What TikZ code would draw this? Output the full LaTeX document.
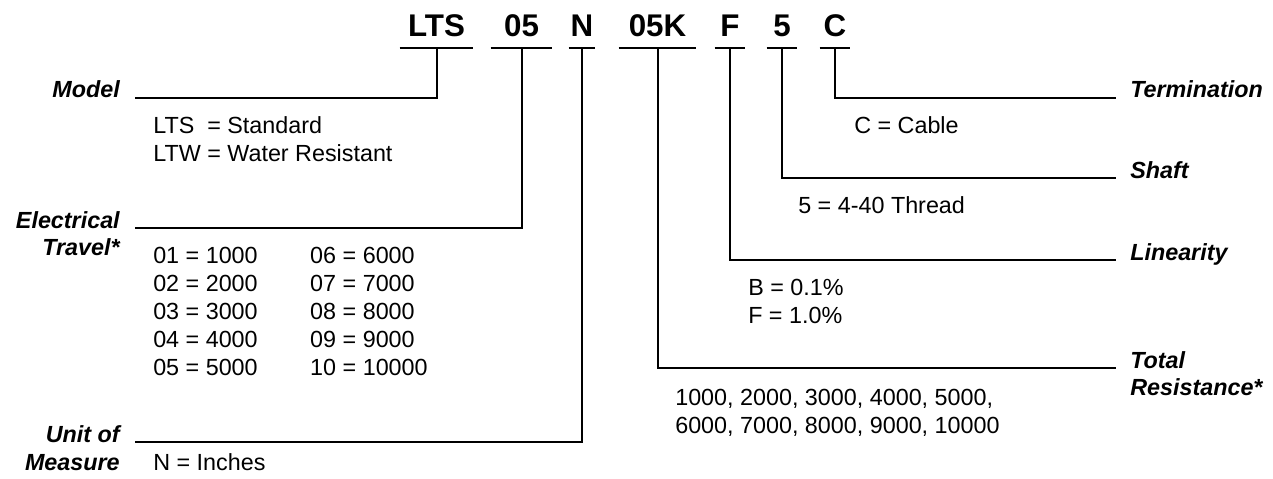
\documentclass[tikz,border=0pt]{standalone}
\usepackage{fontspec}
\setmainfont{Liberation Sans}
\usetikzlibrary{positioning}
\tikzset{
  codebox/.style = {
    font=\fontsize{23.5}{28}\selectfont\bfseries,
    anchor=base,
    inner xsep=0pt,
    inner ysep=8.25pt,
    text depth=0pt
  },
  fieldleft/.style = {
    font=\fontsize{17.5}{21}\selectfont\bfseries\itshape,
    anchor=base east,
    inner xsep=11.25pt,
    inner ysep=0pt
  },
  fieldright/.style = {
    font=\fontsize{17.5}{21}\selectfont\bfseries\itshape,
    anchor=base west,
    inner xsep=10.5pt,
    inner ysep=0pt
  },
  fieldnote/.style = {
    font=\fontsize{17.5}{21}\selectfont,
    anchor=base west,
    inner sep=0pt
  },
  codeline/.style = {
    line width=1.5pt
  }
}

\begin{document}
\begin{tikzpicture}[x=0.75pt,y=-0.75pt]
    \useasboundingbox (0,0) rectangle (1273,478);
    % part number
    \node[codebox, minimum width=54.75pt] (cmodel) at (436.5,37) {LTS};
    \node[codebox, minimum width=45.75pt] (ctravel) at (521.5,37) {05};
    \node[codebox, minimum width=19.5pt] (cunit) at (582,37) {N};
    \node[codebox, minimum width=57.75pt] (cres) at (657.5,37) {05K};
    \node[codebox, minimum width=22.5pt] (clin) at (730,37) {F};
    \node[codebox, minimum width=22.5pt] (cshaft) at (782,37) {5};
    \node[codebox, minimum width=22.5pt] (cterm) at (835,37) {C};
    \foreach \n in {cmodel,ctravel,cunit,cres,clin,cshaft,cterm}
      \draw[codeline] (\n.south west) -- (\n.south east);
    % left fields
    \node[fieldleft] (model) at (135,98) {Model};
    \node[fieldleft] (electrical) at (135,228) {Electrical};
    \node[fieldleft] (travel) at ([yshift=-20.25pt]electrical.base east) {Travel*};
    \node[fieldleft] (unitof) at (135,442) {Unit of};
    \node[fieldleft] (measure) at ([yshift=-21pt]unitof.base east) {Measure};
    % right fields
    \node[fieldright] (termination) at (1116,98) {Termination};
    \node[fieldright] (shaft) at (1116,178) {Shaft};
    \node[fieldright] (linearity) at (1116,260) {Linearity};
    \node[fieldright] (total) at (1116,368) {Total};
    \node[fieldright] (resistance) at ([yshift=-20.25pt]total.base west) {Resistance*};
    % options
    \node[fieldnote] (modelnote) at (153,133) {\begin{tabular}[t]{@{}l@{\ }l@{}}LTS & = Standard\\LTW & = Water Resistant\end{tabular}};
    \node[fieldnote] (travelnote) at (153,263) {\begin{tabular}[t]{@{}p{117.75pt}@{}l@{}}
      01 = 1000 & 06 = 6000\\
      02 = 2000 & 07 = 7000\\
      03 = 3000 & 08 = 8000\\
      04 = 4000 & 09 = 9000\\
      05 = 5000 & 10 = 10000
    \end{tabular}};
    \node[fieldnote] (unitnote) at (153,470) {N = Inches};
    \node[fieldnote] (termnote) at (854,133) {C = Cable};
    \node[fieldnote] (shaftnote) at (798,213) {5 = 4-40 Thread};
    \node[fieldnote] (linnote) at (748,295) {\begin{tabular}[t]{@{}l@{}}B = 0.1\%\\F = 1.0\%\end{tabular}};
    \node[fieldnote] (resnote) at (675,405) {\begin{tabular}[t]{@{}l@{}}1000, 2000, 3000, 4000, 5000,\\6000, 7000, 8000, 9000, 10000\end{tabular}};
    % connectors
    \draw[codeline] (cmodel.south) |- (model.base east);
    \draw[codeline] (ctravel.south) |- (electrical.base east);
    \draw[codeline] (cunit.south) |- (unitof.base east);
    \draw[codeline] (cres.south) |- (total.base west);
    \draw[codeline] (clin.south) |- (linearity.base west);
    \draw[codeline] (cshaft.south) |- (shaft.base west);
    \draw[codeline] (cterm.south) |- (termination.base west);
\end{tikzpicture}
\end{document}
